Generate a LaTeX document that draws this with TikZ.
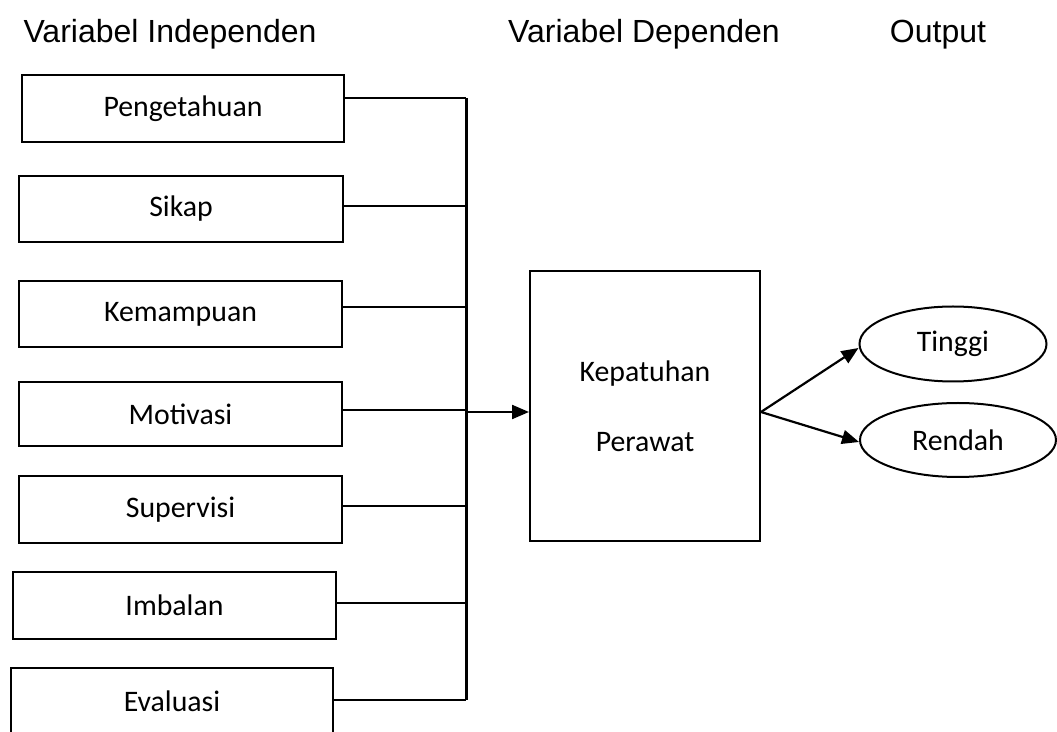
\documentclass[tikz,border=0pt]{standalone}
\usepackage{fontspec}
\setmainfont{Carlito}
\newfontfamily\headfont{Liberation Sans}
\usetikzlibrary{arrows.meta,positioning,shapes.geometric}

\begin{document}
\begin{tikzpicture}[x=0.5pt,y=-0.5pt,font=\fontsize{14.9}{18}\selectfont,
  varbox/.style={draw,line width=1pt,minimum width=161.5pt,minimum height=33pt,inner sep=0pt},
  outbox/.style={draw,ellipse,line width=1pt,inner sep=0pt},
  head/.style={font=\headfont\fontsize{16}{19}\selectfont,anchor=base},
  link/.style={line width=1.1pt},
  arr/.style={line width=1.1pt,-{Triangle[length=8.5pt,width=7pt]}}]
  \useasboundingbox (0,0) rectangle (1057,732);

  \node[head] (hind) at (170,43) {Variabel Independen};
  \node[head] (hdep) at (644,43) {Variabel Dependen};
  \node[head] (hout) at (938,43) {Output};

  \node[varbox,minimum width=161pt,minimum height=33.5pt] (peng) at (183,108.5) {Pengetahuan};
  \node[varbox,minimum width=162pt] (sikap) at (181,209) {Sikap};
  \node[varbox] (kemamp) at (180.5,314) {Kemampuan};
  \node[varbox,minimum height=32pt] (motiv) at (180.5,414) {Motivasi};
  \node[varbox,minimum height=33.5pt] (superv) at (180.5,509.5) {Supervisi};
  \node[varbox,minimum height=33.5pt] (imbal) at (174.5,605.5) {Imbalan};
  \node[varbox,minimum width=161pt] (eval) at (172,701) {Evaluasi};

  \coordinate (bus) at (466,0);
  \foreach \n/\y in {peng/98,sikap/206,kemamp/307,motiv/410,superv/506,imbal/603,eval/700}
    \draw[link] (\n.east |- 0,\y) -- (bus |- 0,\y);
  \draw[line width=1.5pt] (bus |- 0,98) -- (bus |- 0,700);

  \node[draw,line width=1pt,minimum width=115pt,minimum height=135pt,align=center,
    font=\fontsize{14.9}{35}\selectfont] (kep) at (645,406) {Kepatuhan\\Perawat};
  \draw[arr] ([xshift=1pt]bus |- 0,412) -- (kep.west |- 0,412);

  \node[outbox,minimum width=93.5pt,minimum height=37.5pt] (tinggi) at (953,344) {Tinggi};
  \node[outbox,minimum width=98pt,minimum height=37pt] (rendah) at (958,440) {Rendah};
  \draw[arr] (kep.east |- 0,412) -- ([yshift=-2pt]tinggi.west);
  \draw[arr] (kep.east |- 0,412) -- ([yshift=-1pt]rendah.west);
\end{tikzpicture}
\end{document}
